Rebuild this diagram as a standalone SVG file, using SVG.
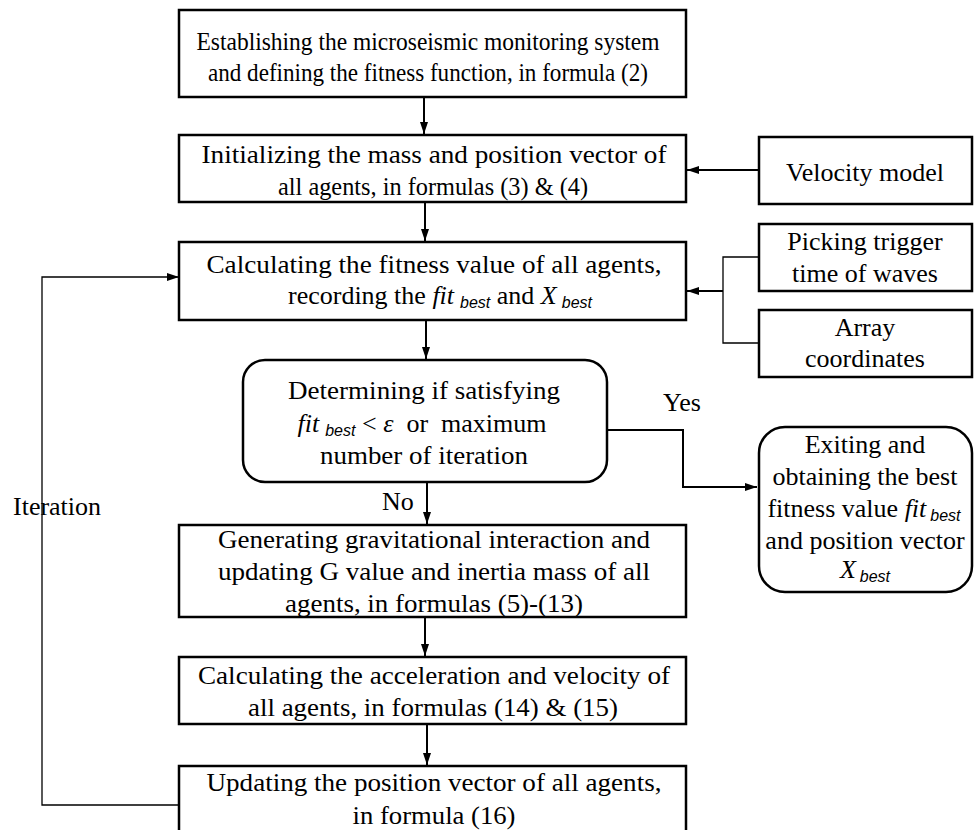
<svg xmlns="http://www.w3.org/2000/svg" width="975" height="830" viewBox="0 0 975 830">
<style>
  .box{fill:#fff;stroke:#000;stroke-width:2.5}
  text{font-family:'Liberation Serif','Times New Roman',Times,serif;font-size:26px;fill:#000;text-anchor:middle}
  .sub{font-family:'Liberation Sans',Arial,sans-serif;font-style:italic;font-size:16px}
  .it{font-style:italic}
  .c{fill:none;stroke:#000;stroke-width:2}
  .thin{fill:none;stroke:#000;stroke-width:1.3}
  .l{text-anchor:start}
</style>
<defs>
  <marker id="ah" markerUnits="userSpaceOnUse" markerWidth="12" markerHeight="8" refX="12" refY="4" orient="auto">
    <path d="M0,0 L12,4 L0,8 Z" fill="#000"/>
  </marker>
</defs>
<rect width="975" height="830" fill="#fff"/>
<g id="connectors">
  <line class="c" x1="424" y1="97" x2="424" y2="134" marker-end="url(#ah)"/>
  <line class="c" x1="425" y1="202" x2="425" y2="241" marker-end="url(#ah)"/>
  <line class="c" x1="759" y1="170" x2="687" y2="170" marker-end="url(#ah)"/>
  <path class="thin" d="M759,257 H723 V343 H759"/>
  <line class="c" x1="723" y1="291" x2="687" y2="291" marker-end="url(#ah)"/>
  <line class="c" x1="426" y1="320" x2="426" y2="359" marker-end="url(#ah)"/>
  <path class="c" d="M607,430 H683 V487 H757" marker-end="url(#ah)"/>
  <line class="c" x1="427" y1="482" x2="427" y2="524" marker-end="url(#ah)"/>
  <line class="c" x1="425" y1="617" x2="425" y2="656" marker-end="url(#ah)"/>
  <line class="c" x1="427" y1="724" x2="427" y2="765" marker-end="url(#ah)"/>
  <path class="thin" d="M179,805 H42 V277 H179" marker-end="url(#ah)"/>
  <text class="l" x="663" y="411">Yes</text>
  <text class="l" x="382" y="510">No</text>
  <text class="l" x="13" y="515">Iteration</text>
</g>
<g id="n1">
  <rect class="box" x="179" y="10" width="507" height="87"/>
  <text x="428" y="50" textLength="463" lengthAdjust="spacingAndGlyphs">Establishing the microseismic monitoring system</text>
  <text x="428" y="81" textLength="440" lengthAdjust="spacingAndGlyphs">and defining the fitness function, in formula (2)</text>
</g>
<g id="n2">
  <rect class="box" x="179" y="135" width="507" height="67"/>
  <text x="434" y="163" textLength="465" lengthAdjust="spacingAndGlyphs">Initializing the mass and position vector of</text>
  <text x="433" y="195" textLength="310" lengthAdjust="spacingAndGlyphs">all agents, in formulas (3) &amp; (4)</text>
</g>
<g id="n3">
  <rect class="box" x="179" y="242" width="507" height="78"/>
  <text x="434" y="273" textLength="455" lengthAdjust="spacingAndGlyphs">Calculating the fitness value of all agents,</text>
  <text x="440" y="304">recording the <tspan class="it">fit</tspan><tspan class="sub" dx="6" dy="4">best</tspan><tspan dy="-4"> and </tspan><tspan class="it">X</tspan><tspan class="sub" dx="5" dy="4">best</tspan></text>
</g>
<g id="n4">
  <rect class="box" x="243" y="360" width="364" height="122" rx="22"/>
  <text x="424" y="399" textLength="272" lengthAdjust="spacingAndGlyphs">Determining if satisfying</text>
  <text x="422" y="432"><tspan class="it">fit</tspan><tspan class="sub" dx="6" dy="4">best</tspan><tspan dy="-4"> &lt; </tspan><tspan class="it">ε</tspan><tspan>&#160;&#160;or&#160;&#160;maximum</tspan></text>
  <text x="424" y="464" textLength="208" lengthAdjust="spacingAndGlyphs">number of iteration</text>
</g>
<g id="n5">
  <rect class="box" x="179" y="525" width="507" height="92"/>
  <text x="434" y="548" textLength="432" lengthAdjust="spacingAndGlyphs">Generating gravitational interaction and</text>
  <text x="434" y="580" textLength="432" lengthAdjust="spacingAndGlyphs">updating G value and inertia mass of all</text>
  <text x="434" y="612" textLength="298" lengthAdjust="spacingAndGlyphs">agents, in formulas (5)-(13)</text>
</g>
<g id="n6">
  <rect class="box" x="179" y="657" width="507" height="67"/>
  <text x="434" y="684" textLength="472" lengthAdjust="spacingAndGlyphs">Calculating the acceleration and velocity of</text>
  <text x="433" y="716" textLength="370" lengthAdjust="spacingAndGlyphs">all agents, in formulas (14) &amp; (15)</text>
</g>
<g id="n7">
  <rect class="box" x="179" y="766" width="507" height="80"/>
  <text x="434" y="791" textLength="455" lengthAdjust="spacingAndGlyphs">Updating the position vector of all agents,</text>
  <text x="434" y="824" textLength="163" lengthAdjust="spacingAndGlyphs">in formula (16)</text>
</g>
<g id="n8">
  <rect class="box" x="759" y="137" width="213" height="67"/>
  <text x="865" y="181">Velocity model</text>
</g>
<g id="n9">
  <rect class="box" x="759" y="224" width="213" height="67"/>
  <text x="865" y="250">Picking trigger</text>
  <text x="865" y="282">time of waves</text>
</g>
<g id="n10">
  <rect class="box" x="759" y="310" width="213" height="67"/>
  <text x="865" y="336">Array</text>
  <text x="865" y="367">coordinates</text>
</g>
<g id="n11">
  <rect class="box" x="759" y="427" width="213" height="165" rx="26"/>
  <text x="865" y="453">Exiting and</text>
  <text x="865" y="485">obtaining the best</text>
  <text x="864" y="517">fitness value <tspan class="it">fit</tspan><tspan class="sub" dx="4" dy="4">best</tspan></text>
  <text x="865" y="549">and position vector</text>
  <text x="865" y="578"><tspan class="it">X</tspan><tspan class="sub" dx="4" dy="4">best</tspan></text>
</g>
</svg>
